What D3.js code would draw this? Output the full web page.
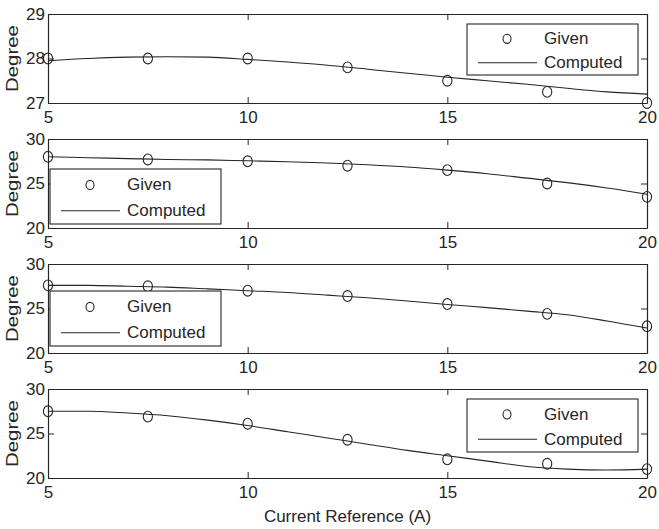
<!DOCTYPE html>
<html>
<head>
<meta charset="utf-8">
<script src="https://cdn.jsdelivr.net/npm/d3@7"></script>
<style>
  html, body { margin: 0; padding: 0; background: #fff; }
  svg { display: block; }
  text { font-family: "Liberation Sans", Arial, sans-serif; fill: #262626; }
</style>
</head>
<body>
<svg id="chart" width="659" height="529"></svg>
<script>
// ---------- data ----------
const xGiven = [5, 7.5, 10, 12.5, 15, 17.5, 20];
const xComputed = [5, 6, 7, 8, 9, 10, 11, 12, 13, 14, 15, 16, 17, 18, 19, 20];

const given1 = [28.0, 28.0, 28.0, 27.8, 27.5, 27.25, 27.0];
const computed1 = [27.95, 28.0, 28.03, 28.04, 28.03, 27.98, 27.92, 27.85, 27.76, 27.67, 27.58, 27.5, 27.42, 27.33, 27.25, 27.2];

const given2 = [28.0, 27.7, 27.5, 27.0, 26.5, 25.0, 23.5];
const computed2 = [28.0, 27.9, 27.8, 27.7, 27.65, 27.55, 27.45, 27.3, 27.1, 26.85, 26.5, 26.1, 25.6, 25.1, 24.5, 23.8];

const given3 = [27.6, 27.5, 27.0, 26.4, 25.5, 24.4, 23.0];
const computed3 = [27.6, 27.6, 27.5, 27.4, 27.2, 27.0, 26.8, 26.5, 26.2, 25.85, 25.45, 25.1, 24.7, 24.3, 23.6, 22.8];

const given4 = [27.5, 26.9, 26.1, 24.3, 22.1, 21.6, 21.0];
const computed4 = [27.5, 27.5, 27.3, 27.0, 26.5, 25.9, 25.2, 24.5, 23.8, 23.1, 22.5, 21.9, 21.3, 21.0, 20.9, 21.0];

const xTicks = [5, 10, 15, 20];
const yTicks1 = [27, 28, 29];
const yTicks2 = [20, 25, 30];
const yTicks3 = [20, 25, 30];
const yTicks4 = [20, 25, 30];

const legendLabels = ["Given", "Computed"];
const xLabel = "Current Reference (A)";
const yLabel = "Degree";

// ---------- layout ----------
const svg = d3.select("#chart");
const color = "#262626";
const left = 48, right = 647;
const panelTop0 = 14, panelH = 89, panelStep = 125;
const fontSize = 17;
const legW = 171;

const panels = [
  { given: given1, computed: computed1, yTicks: yTicks1, legend: { x: 467, y: 24, h: 51 } },
  { given: given2, computed: computed2, yTicks: yTicks2, legend: { x: 50, y: 169, h: 55 } },
  { given: given3, computed: computed3, yTicks: yTicks3, legend: { x: 50, y: 291, h: 55 } },
  { given: given4, computed: computed4, yTicks: yTicks4, legend: { x: 467, y: 399, h: 53 } }
];

const x = d3.scaleLinear().domain([5, 20]).range([left, right]);

panels.forEach((p, i) => {
  const top = panelTop0 + i * panelStep;
  const bottom = top + panelH;
  const yDom = d3.extent(p.yTicks);
  const y = d3.scaleLinear().domain(yDom).range([bottom, top]);
  const g = svg.append("g");

  // axes (MATLAB-like: ticks inside, on all four sides)
  const axB = g.append("g").attr("transform", `translate(0,${bottom})`)
    .call(d3.axisBottom(x).tickValues(xTicks).tickSizeInner(-6).tickSizeOuter(0).tickPadding(10).tickFormat(d3.format("d")));
  const axT = g.append("g").attr("transform", `translate(0,${top})`)
    .call(d3.axisTop(x).tickValues(xTicks).tickSizeInner(-6).tickSizeOuter(0).tickFormat(""));
  const axL = g.append("g").attr("transform", `translate(${left},0)`)
    .call(d3.axisLeft(y).tickValues(p.yTicks).tickSizeInner(-6).tickSizeOuter(0).tickPadding(3).tickFormat(d3.format("d")));
  const axR = g.append("g").attr("transform", `translate(${right},0)`)
    .call(d3.axisRight(y).tickValues(p.yTicks).tickSizeInner(-6).tickSizeOuter(0).tickFormat(""));
  [axB, axT, axL, axR].forEach(a => {
    a.select(".domain").attr("stroke", color).attr("stroke-width", 1.2);
    a.selectAll(".tick line").attr("stroke", color).attr("stroke-width", 1);
    a.selectAll(".tick text").attr("font-size", fontSize).attr("font-family", "Liberation Sans, Arial, sans-serif").attr("fill", color);
  });
  axB.selectAll(".tick text").attr("dy", "0.6em");

  // y label (slightly stretched along its length, as in the reference)
  g.append("text")
    .attr("transform", `translate(12,${(top + bottom) / 2}) rotate(-90) scale(1.2,1)`)
    .attr("text-anchor", "middle").attr("dominant-baseline", "central")
    .attr("font-size", fontSize).text(yLabel);

  // computed line
  const line = d3.line().x((d, j) => x(xComputed[j])).y(d => y(d)).curve(d3.curveMonotoneX);
  g.append("path").datum(p.computed).attr("d", line)
    .attr("fill", "none").attr("stroke", color).attr("stroke-width", 1.1);

  // given markers
  g.selectAll("ellipse.pt").data(p.given).enter().append("ellipse")
    .attr("class", "pt")
    .attr("cx", (d, j) => x(xGiven[j])).attr("cy", d => y(d))
    .attr("rx", 4.6).attr("ry", 5.4)
    .attr("fill", "none").attr("stroke", color).attr("stroke-width", 1.1);

  // legend
  const L = p.legend;
  const y1 = L.y + L.h * 0.29, y2 = L.y + L.h * 0.76;
  g.append("rect").attr("x", L.x).attr("y", L.y).attr("width", legW).attr("height", L.h)
    .attr("fill", "#fff").attr("stroke", color).attr("stroke-width", 1.1);
  g.append("ellipse").attr("cx", L.x + 40).attr("cy", y1).attr("rx", 4).attr("ry", 4.6)
    .attr("fill", "none").attr("stroke", color).attr("stroke-width", 1.1);
  g.append("line").attr("x1", L.x + 11).attr("x2", L.x + 70).attr("y1", y2).attr("y2", y2)
    .attr("stroke", color).attr("stroke-width", 1.1);
  g.append("text").attr("x", L.x + 77).attr("y", y1).attr("dominant-baseline", "central")
    .attr("font-size", fontSize).text(legendLabels[0]);
  g.append("text").attr("x", L.x + 77).attr("y", y2).attr("dominant-baseline", "central")
    .attr("font-size", fontSize).text(legendLabels[1]);
});

// x label
svg.append("text")
  .attr("x", (left + right) / 2).attr("y", 516)
  .attr("text-anchor", "middle").attr("dominant-baseline", "central")
  .attr("font-size", fontSize).text(xLabel);
</script>
</body>
</html>
